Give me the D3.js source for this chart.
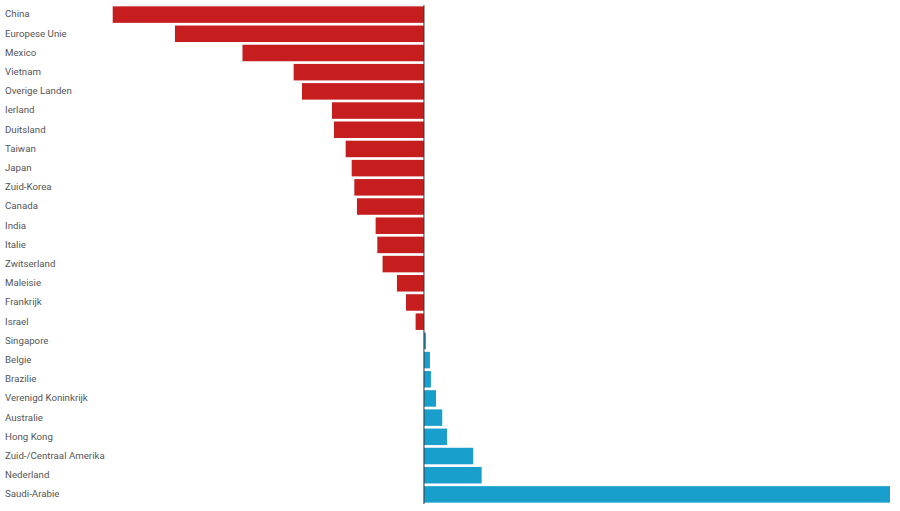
<!DOCTYPE html>
<html>
<head>
<meta charset="utf-8">
<script src="https://cdn.jsdelivr.net/npm/d3@7"></script>
<style>
  body { margin: 0; background: #fff; }
  svg { display: block; font-family: Roboto, "Noto Sans", sans-serif; }
</style>
</head>
<body>
<div id="chart"></div>
<script>
// data
const countries = ['China', 'Europese Unie', 'Mexico', 'Vietnam', 'Overige Landen', 'Ierland', 'Duitsland',
  'Taiwan', 'Japan', 'Zuid-Korea', 'Canada', 'India', 'Italie', 'Zwitserland', 'Maleisie', 'Frankrijk',
  'Israel', 'Singapore', 'Belgie', 'Brazilie', 'Verenigd Koninkrijk', 'Australie', 'Hong Kong',
  'Zuid-/Centraal Amerika', 'Nederland', 'Saudi-Arabie'];
const values = [-295, -236, -172, -123.5, -115.6, -87.2, -85.3, -74.2, -68.5, -66, -63.5, -45.8, -44.2,
  -39.2, -25.6, -17, -7.9, 1.9, 5.7, 6.6, 11.4, 17.3, 21.8, 46.7, 54.7, 441.7];

function renderVisual(container) {
    const W = 900, H = 511;
    const svg = d3.select(container).append('svg').attr('width', W).attr('height', H);
    const rows = countries.map((c, i) => ({c: c, v: values[i]}));

    const x = d3.scaleLinear().domain([d3.min(values), d3.max(values)]).range([112.7, 890]);
    const y = d3.scaleBand().domain(countries).range([5, 504]).paddingInner(0.14).paddingOuter(0.07);

    svg.append('g').selectAll('rect').data(rows).join('rect')
        .attr('x', d => x(Math.min(0, d.v)))
        .attr('y', d => y(d.c))
        .attr('width', d => Math.abs(x(d.v) - x(0)))
        .attr('height', y.bandwidth())
        .attr('fill', d => d.v < 0 ? '#c61d1f' : '#199fcb');

    svg.append('g').selectAll('text').data(rows).join('text')
        .text(d => d.c)
        .attr('x', 5).attr('y', d => y(d.c) + y.bandwidth() / 2 - 0.5)
        .attr('dy', '0.35em')
        .attr('fill', '#555').style('font-size', '9.7px');

    // zero line
    svg.append('line').attr('x1', x(0)).attr('x2', x(0)).attr('y1', 5).attr('y2', 504)
        .attr('stroke', '#333').attr('stroke-width', 1);
}
renderVisual('#chart');
</script>
</body>
</html>
